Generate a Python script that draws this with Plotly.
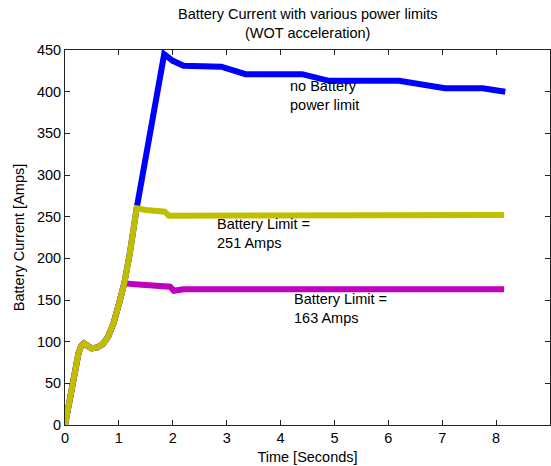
import plotly.graph_objects as go

# Shared acceleration ramp (all three runs follow this until their limit)
t_ramp = [0.0, 0.05, 0.10, 0.15, 0.20, 0.25, 0.30, 0.35, 0.42, 0.50, 0.60, 0.70, 0.80, 0.90, 1.00, 1.10]
i_ramp = [0, 18, 38, 55, 72, 86, 95, 98, 95, 92, 93, 97, 106, 122, 145, 170]

# No battery power limit (blue)
t_nolimit = t_ramp + [1.20, 1.33, 1.84, 2.00, 2.20, 2.90, 3.00, 3.35, 4.40, 4.90, 6.20, 7.05, 7.75, 8.17]
i_nolimit = i_ramp + [205, 260, 445, 437, 431, 430, 428, 421, 421, 413, 413, 404, 404, 400]

# Battery limit = 251 A (yellow)
t_251 = t_ramp + [1.20, 1.30, 1.33, 1.50, 1.85, 1.93, 2.00, 2.10, 8.15]
i_251 = i_ramp + [205, 250, 260, 258, 256, 251, 251, 252, 252]

# Battery limit = 163 A (magenta)
t_163 = t_ramp + [1.30, 1.75, 1.95, 2.02, 2.20, 8.15]
i_163 = i_ramp + [169, 167, 166, 161, 163, 163]

x_ticks = [0, 1, 2, 3, 4, 5, 6, 7, 8, 9]
y_ticks = [0, 50, 100, 150, 200, 250, 300, 350, 400, 450]

FONT = "Liberation Sans, Arial, sans-serif"
FS = 14.5

fig = go.Figure()
fig.add_trace(go.Scatter(x=t_nolimit, y=i_nolimit, mode="lines",
                         line=dict(color="#0000FF", width=6), hoverinfo="skip"))
fig.add_trace(go.Scatter(x=t_163, y=i_163, mode="lines",
                         line=dict(color="#BF00BF", width=6), hoverinfo="skip"))
fig.add_trace(go.Scatter(x=t_251, y=i_251, mode="lines",
                         line=dict(color="#BFBF00", width=6), hoverinfo="skip"))

ann_style = dict(xref="x", yref="y", showarrow=False, xanchor="left",
                 yanchor="middle", align="left",
                 font=dict(family=FONT, size=FS, color="#000"))
annotations = [
    dict(x=4.14, y=396, text="no Battery<br>power limit", **ann_style),
    dict(x=2.79, y=230, text="Battery Limit =<br>251 Amps", **ann_style),
    dict(x=4.22, y=140, text="Battery Limit =<br>163 Amps", **ann_style),
    dict(x=0.5, y=1 + 46 / 375, xref="paper", yref="paper", showarrow=False,
         xanchor="center", yanchor="top", align="center",
         text="Battery Current with various power limits<br>(WOT acceleration)",
         font=dict(family=FONT, size=FS, color="#000")),
]

axis_common = dict(showgrid=False, zeroline=False, showline=True,
                   linecolor="#222", linewidth=1, mirror="ticks",
                   ticks="inside", ticklen=5, tickcolor="#222",
                   tickfont=dict(family=FONT, size=FS, color="#000"))

fig.update_layout(
    width=551, height=466, autosize=False,
    margin=dict(l=65, r=1, t=50, b=41),
    paper_bgcolor="white", plot_bgcolor="white",
    showlegend=False,
    xaxis=dict(range=[0, 9], tickvals=x_ticks, ticktext=[str(v) for v in x_ticks],
               title=dict(text="Time [Seconds]", standoff=6,
                          font=dict(family=FONT, size=FS, color="#000")),
               **axis_common),
    yaxis=dict(range=[0, 450], tickvals=y_ticks, ticktext=[str(v) for v in y_ticks],
               title=dict(text="Battery Current [Amps]", standoff=8,
                          font=dict(family=FONT, size=FS, color="#000")),
               **axis_common),
    annotations=annotations,
)

fig.write_html("out.html", config={"displayModeBar": False},
               post_script="document.body.style.margin='0';")
